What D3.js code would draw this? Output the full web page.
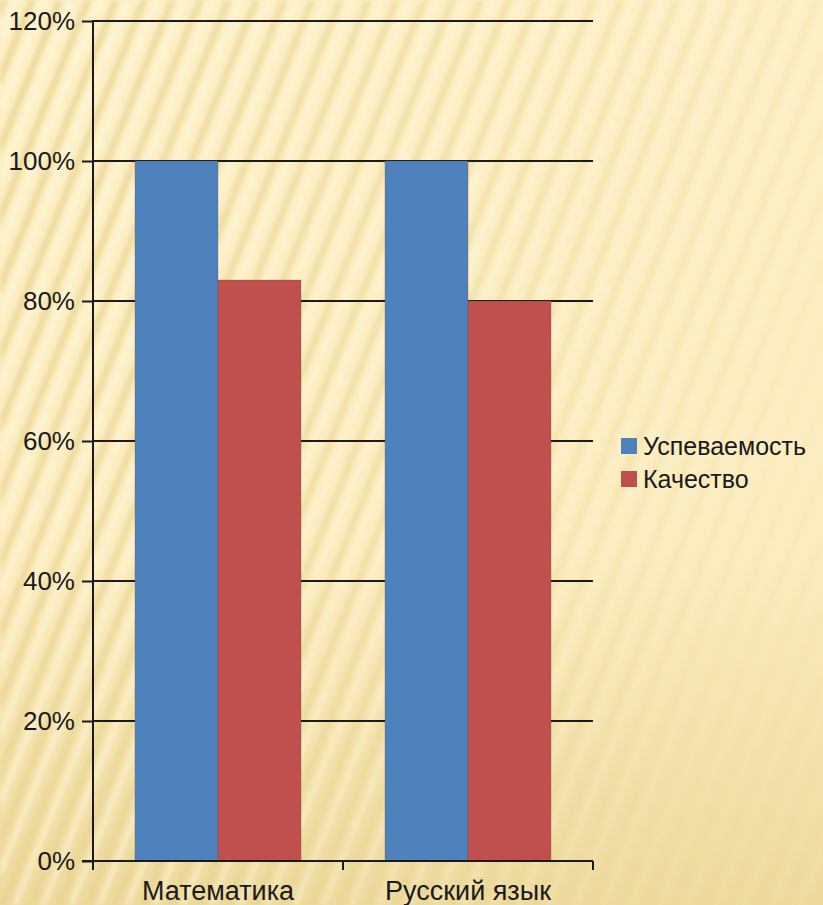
<!DOCTYPE html>
<html><head><meta charset="utf-8">
<script src="https://cdn.jsdelivr.net/npm/d3@7/dist/d3.min.js"></script>
<style>html,body{margin:0;padding:0;overflow:hidden;}svg{display:block;}text{font-family:'Liberation Sans',Arial,sans-serif;}</style>
</head><body>
<script>
const categories = ["Математика", "Русский язык"];
const seriesNames = ["Успеваемость", "Качество"];
const uspevaemost = [100, 100];
const kachestvo = [83, 80];
const yTicks = [0, 20, 40, 60, 80, 100, 120];
const colors = ["#4F81BD", "#C0504D"];

(function () {
const W = 823, H = 905;
const FONT = "'Liberation Sans', Arial, sans-serif";
const svg = d3.select("body").append("svg").attr("width", W).attr("height", H);
const defs = svg.append("defs");

// background gradient
const bg = defs.append("linearGradient").attr("id", "bg").attr("x1", 0).attr("y1", 0).attr("x2", 0).attr("y2", 1);
bg.append("stop").attr("offset", "0").attr("stop-color", "#FDF0C6");
bg.append("stop").attr("offset", "0.6").attr("stop-color", "#FCEDC0");
bg.append("stop").attr("offset", "1").attr("stop-color", "#EEDA9E");
svg.append("rect").attr("width", W).attr("height", H).attr("fill", "url(#bg)");

// diagonal stripes
const pat = defs.append("pattern").attr("id", "stripes").attr("patternUnits", "userSpaceOnUse")
  .attr("width", 26).attr("height", 26).attr("patternTransform", "rotate(22)");
pat.append("rect").attr("x", 0).attr("width", 7).attr("height", 26).attr("fill", "#E6D08A").attr("opacity", 0.65);
pat.append("rect").attr("x", 12).attr("width", 6).attr("height", 26).attr("fill", "#FFF8DC").attr("opacity", 0.65);
const fade = defs.append("linearGradient").attr("id", "fade").attr("x1", 0).attr("y1", 0).attr("x2", 1).attr("y2", 0.3);
fade.append("stop").attr("offset", "0").attr("stop-color", "#fff").attr("stop-opacity", 1);
fade.append("stop").attr("offset", "0.55").attr("stop-color", "#fff").attr("stop-opacity", 0.7);
fade.append("stop").attr("offset", "1").attr("stop-color", "#fff").attr("stop-opacity", 0.15);
const mask = defs.append("mask").attr("id", "m");
mask.append("rect").attr("width", W).attr("height", H).attr("fill", "url(#fade)");
const flt = defs.append("filter").attr("id", "blur").attr("x", "-5%").attr("y", "-5%").attr("width", "110%").attr("height", "110%");
flt.append("feGaussianBlur").attr("stdDeviation", 2);
svg.append("g").attr("mask", "url(#m)").append("rect").attr("width", W).attr("height", H)
  .attr("fill", "url(#stripes)").attr("filter", "url(#blur)");

const mLeft = 93, mRight = 593, mTop = 21, mBottom = 861;
const x0 = d3.scaleBand().domain(categories).range([mLeft, mRight]).paddingInner(0.336).paddingOuter(0.168);
const x1 = d3.scaleBand().domain(seriesNames).range([0, x0.bandwidth()]);
const y = d3.scaleLinear().domain([0, 120]).range([mBottom, mTop]);

// gridlines
svg.append("g").selectAll("line").data(yTicks.filter(d => d > 0)).join("line")
  .attr("x1", mLeft).attr("x2", mRight).attr("y1", d => y(d)).attr("y2", d => y(d))
  .attr("stroke", "#1a1a1a").attr("stroke-width", 2);

// bars
const data = categories.map((c, i) => ({ c, vals: [uspevaemost[i], kachestvo[i]] }));
const g = svg.append("g").selectAll("g").data(data).join("g").attr("transform", d => `translate(${x0(d.c)},0)`);
g.selectAll("rect").data(d => d.vals.map((v, j) => ({ v, s: seriesNames[j], j }))).join("rect")
  .attr("x", d => x1(d.s)).attr("width", x1.bandwidth())
  .attr("y", d => y(d.v)).attr("height", d => mBottom - y(d.v))
  .attr("fill", d => colors[d.j]).attr("stroke", "rgba(90,80,60,0.35)").attr("stroke-width", 0.8);

// y axis
const yAxis = d3.axisLeft(y).tickValues(yTicks).tickFormat(d => d + "%").tickSize(11).tickPadding(7);
const ya = svg.append("g").attr("transform", `translate(${mLeft},0)`).call(yAxis);
ya.attr("font-family", FONT);
ya.select(".domain").remove();
ya.selectAll(".tick line").attr("stroke", "#1a1a1a").attr("stroke-width", 2);
ya.selectAll("text").attr("font-family", FONT).attr("font-size", 26).attr("fill", "#1a1a1a");
svg.append("line").attr("x1", mLeft).attr("x2", mLeft).attr("y1", mTop - 1).attr("y2", mBottom + 9)
  .attr("stroke", "#1a1a1a").attr("stroke-width", 2);

// x axis
const xa = svg.append("g").attr("transform", `translate(0,${mBottom})`);
xa.append("line").attr("x1", mLeft - 11).attr("x2", mRight).attr("y1", 0).attr("y2", 0).attr("stroke", "#1a1a1a").attr("stroke-width", 2);
const bounds = [mLeft, (mLeft + mRight) / 2, mRight];
xa.selectAll("line.t").data(bounds).join("line").attr("class", "t")
  .attr("x1", d => d).attr("x2", d => d).attr("y1", 0).attr("y2", 9).attr("stroke", "#1a1a1a").attr("stroke-width", 2);
xa.selectAll("text").data(categories).join("text")
  .attr("x", d => x0(d) + x0.bandwidth() / 2).attr("y", 39).attr("text-anchor", "middle")
  .attr("font-family", FONT).attr("font-size", 27).attr("fill", "#1a1a1a").text(d => d);

// legend
const lg = svg.append("g").attr("transform", "translate(621,438)");
const li = lg.selectAll("g").data(seriesNames).join("g").attr("transform", (d, i) => `translate(0,${i * 33})`);
li.append("rect").attr("width", 16).attr("height", 16).attr("fill", (d, i) => colors[i]);
li.append("text").attr("x", 22).attr("y", 8).attr("dy", "0.36em")
  .attr("font-family", FONT).attr("font-size", 25).attr("fill", "#1a1a1a").text(d => d);
})();
</script>
</body></html>
